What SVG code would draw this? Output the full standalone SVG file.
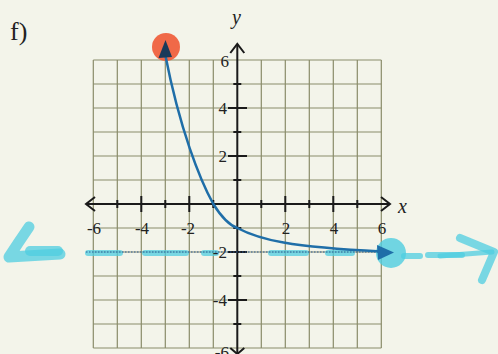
<svg xmlns="http://www.w3.org/2000/svg" width="498" height="354" viewBox="0 0 498 354">
<defs>
<style>
.grid{stroke:#8a8c6a;stroke-width:1.2;fill:none}
.axis{stroke:#1a1a1a;stroke-width:2;fill:none}
.tick{stroke:#1a1a1a;stroke-width:2}
.lbl{font-family:"Liberation Serif",serif;font-size:17px;fill:#222}
.var{font-family:"Liberation Serif",serif;font-size:20px;font-style:italic;fill:#222}
.hl{stroke:#4fcde0;stroke-opacity:0.75;stroke-linecap:round;stroke-linejoin:round;fill:none}
</style>
</defs>
<rect width="498" height="354" fill="#f3f4ea"/>
<text x="10" y="40" font-family="Liberation Serif,serif" font-size="26" fill="#222">f)</text>
<g id="grid" class="grid">
<path d="M93.3 60V348M117.3 60V348M141.3 60V348M165.3 60V348M189.3 60V348M213.3 60V348M261.3 60V348M285.3 60V348M309.3 60V348M333.3 60V348M357.3 60V348M381.3 60V348"/>
<path d="M93.3 60H381.3M93.3 84H381.3M93.3 108H381.3M93.3 132H381.3M93.3 156H381.3M93.3 180H381.3M93.3 228H381.3M93.3 252H381.3M93.3 276H381.3M93.3 300H381.3M93.3 324H381.3M93.3 348H381.3"/>
</g>
<g id="highlight">
<path class="hl" stroke-width="11" d="M29 227 Q18 243 9 257 L60 254"/>
<path class="hl" stroke-width="10" d="M30 251 L58 251"/>
<path class="hl" stroke-width="6" d="M88 253H120M145 253H186M204 253H216M271 253H306M328 253H352"/>
<circle cx="391" cy="253" r="15" fill="#4fcde0" fill-opacity="0.8"/>
<path class="hl" stroke-width="6" d="M404 256H420M428 255H462"/>
<path class="hl" stroke-width="8" d="M460 238 L494 252 L482 280"/>
<path class="hl" stroke-width="5" d="M440 256 L492 252"/>
</g>
<g id="axes">
<path class="axis" d="M86 204H390M237.3 44V354"/>
<path class="axis" d="M95 197L86 204L95 211M381 197L390 204L381 211M230.3 53L237.3 44L244.3 53"/>
<path class="tick" d="M117.3 200V208M165.3 200V208M213.3 200V208M261.3 200V208M309.3 200V208M357.3 200V208M141.3 196V212M189.3 196V212M285.3 196V212M333.3 196V212"/>
<path class="tick" d="M233.3 84H241.3M233.3 132H241.3M233.3 180H241.3M233.3 228H241.3M233.3 276H241.3M233.3 324H241.3M228 108H247M228 156H247M228 252H247M228 300H247"/>
<path class="axis" d="M230.3 348L237.3 354L244.3 348"/>
</g>
<g id="labels">
<text class="lbl" x="229" y="67" text-anchor="end">6</text>
<text class="lbl" x="227" y="114" text-anchor="end">4</text>
<text class="lbl" x="227" y="162" text-anchor="end">2</text>
<text class="lbl" x="227" y="258" text-anchor="end">-2</text>
<text class="lbl" x="227" y="306" text-anchor="end">-4</text>
<text class="lbl" x="229" y="358" text-anchor="end">-6</text>
<text class="lbl" x="94" y="234" text-anchor="middle">-6</text>
<text class="lbl" x="142" y="234" text-anchor="middle">-4</text>
<text class="lbl" x="188" y="234" text-anchor="middle">-2</text>
<text class="lbl" x="286" y="234" text-anchor="middle">2</text>
<text class="lbl" x="334" y="234" text-anchor="middle">4</text>
<text class="lbl" x="382" y="234" text-anchor="middle">6</text>
<text class="var" x="398" y="213">x</text>
<text class="var" x="232" y="24">y</text>
</g>
<circle cx="166" cy="47" r="14" fill="#f05a36" fill-opacity="0.9"/>
<g id="connectors">
<path d="M86 252H384" stroke="#2a5a9a" stroke-width="1.2" stroke-dasharray="1.5 1.5" fill="none"/>
<path d="M165.3 55 C180 130 200 180 213.3 204 C222 218 229 225 237.3 228 C260 240 290 247 381 251.5" stroke="#1f6ea8" stroke-width="2.5" fill="none"/>
<path d="M165.5 40 L158.5 58 L172 57 Z" fill="#1a3a5a"/>
<path d="M394 252.5 L377 245 L378 260 Z" fill="#1f6ea8"/>
</g>
</svg>
